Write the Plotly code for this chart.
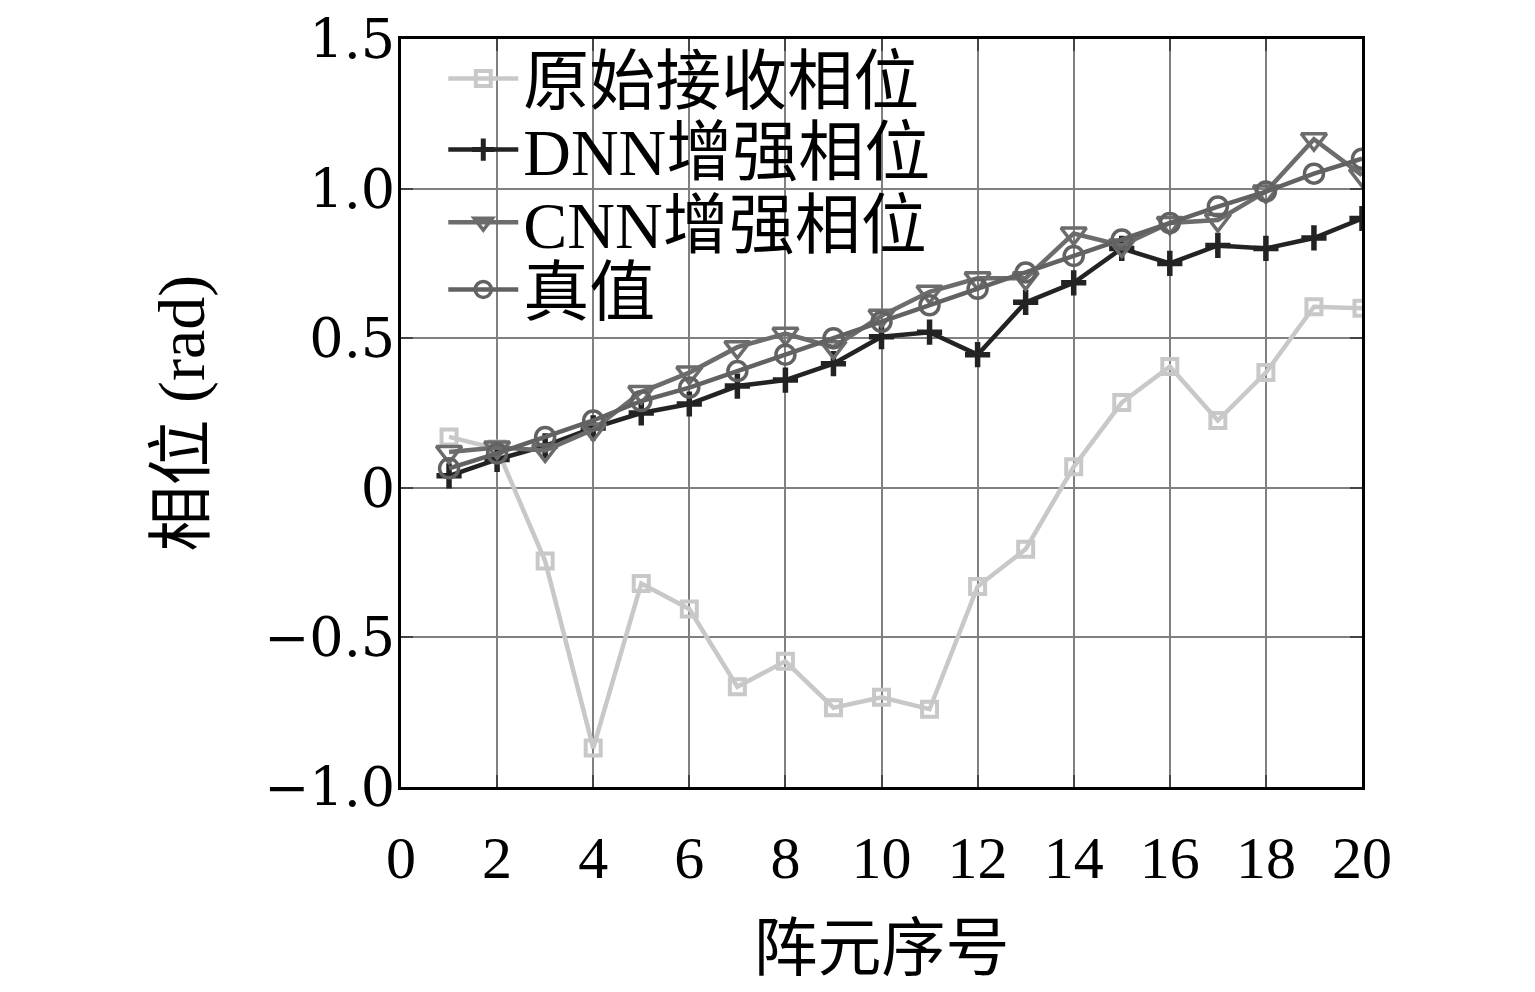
import plotly.graph_objects as go

# ---- data ----
element_index = list(range(1, 21))
raw_phase = [0.17, 0.13, -0.245, -0.87, -0.32, -0.405, -0.665, -0.58, -0.735, -0.70,
             -0.74, -0.33, -0.205, 0.07, 0.285, 0.405, 0.225, 0.385, 0.605, 0.60]
dnn_phase = [0.04, 0.095, 0.14, 0.20, 0.25, 0.28, 0.34, 0.36, 0.415, 0.505,
             0.52, 0.445, 0.62, 0.685, 0.80, 0.75, 0.81, 0.80, 0.835, 0.90]
cnn_phase = [0.12, 0.135, 0.125, 0.195, 0.32, 0.385, 0.47, 0.515, 0.47, 0.575,
             0.655, 0.70, 0.70, 0.85, 0.81, 0.885, 0.895, 0.99, 1.165, 1.045]
true_phase = [0.065, 0.115, 0.17, 0.225, 0.29, 0.335, 0.39, 0.445, 0.50, 0.555,
              0.61, 0.665, 0.72, 0.775, 0.83, 0.885, 0.94, 0.99, 1.05, 1.10]

series_names = ["原始接收相位", "DNN增强相位", "CNN增强相位", "真值"]
x_tick_vals = [0, 2, 4, 6, 8, 10, 12, 14, 16, 18, 20]
y_tick_vals = [-1.0, -0.5, 0, 0.5, 1.0, 1.5]
y_tick_text = ["\u22121.0", "\u22120.5", "0", "0.5", "1.0", "1.5"]
x_title = "阵元序号"
y_title = "相位 (rad)"

FONT = "Liberation Serif, 'Noto Sans CJK SC', serif"
YTICK_FONT = "DejaVu Serif, Liberation Serif, serif"

colors = ["#c8c8c8", "#232323", "#6c6c6c", "#626262"]
symbols = ["square-open", "cross-thin-open", "triangle-down-open", "circle-open"]
msizes = [15, 18, 22, 19]
mwidths = [4, 5.5, 3.5, 3.5]
series = [raw_phase, dnn_phase, cnn_phase, true_phase]
legend_ids = ["legend", "legend2", "legend3", "legend4"]

fig = go.Figure()
for name, ys, c, s, ms, mw, lg in zip(series_names, series, colors, symbols, msizes, mwidths, legend_ids):
    fig.add_trace(go.Scatter(
        x=element_index, y=ys, name=name, mode="lines+markers", legend=lg,
        line=dict(color=c, width=4.5),
        marker=dict(symbol=s, size=ms, color=c, line=dict(width=mw, color=c))))

# legend rows (paper y of row centres)
row_y = [0.947, 0.852, 0.755, 0.665]
legend_common = dict(x=0.044, xanchor="left", yanchor="middle",
                     bgcolor="rgba(0,0,0,0)", borderwidth=0,
                     font=dict(family=FONT, size=66, color="black"),
                     itemwidth=70)
legends = {lg: dict(y=ry, **legend_common) for lg, ry in zip(legend_ids, row_y)}

fig.update_layout(
    width=1520, height=976,
    margin=dict(l=393, r=166, t=31, b=197, autoexpand=False),
    paper_bgcolor="white", plot_bgcolor="white",
    font=dict(family=FONT, size=58, color="black"),
    showlegend=True,
    **legends,
    shapes=[dict(type="rect", xref="paper", yref="paper", x0=0.01, x1=0.585,
                 y0=0.628, y1=0.996, fillcolor="white", line=dict(width=0),
                 layer="between")],
    xaxis=dict(range=[0, 20], tickvals=x_tick_vals, ticks="inside", ticklen=12,
               tickwidth=1.5, tickcolor="#444", mirror="allticks",
               showline=True, linecolor="black", linewidth=3,
               showgrid=True, gridcolor="#808080", gridwidth=2, zeroline=False,
               ticklabelstandoff=16, ticklabeloverflow="allow",
               tickfont=dict(family=FONT, size=60),
               title=dict(text=x_title, font=dict(family=FONT, size=64), standoff=54)),
    yaxis=dict(range=[-1.0, 1.5], tickvals=y_tick_vals, ticktext=y_tick_text,
               ticks="inside", ticklen=12, tickwidth=1.5, tickcolor="#444", mirror="allticks",
               showline=True, linecolor="black", linewidth=3,
               showgrid=True, gridcolor="#808080", gridwidth=2, zeroline=False,
               ticklabelstandoff=-8, ticklabeloverflow="allow",
               tickfont=dict(family=YTICK_FONT, size=54),
               title=dict(text=y_title, font=dict(family=FONT, size=66), standoff=38)),
)

fig.write_html("out.html")
